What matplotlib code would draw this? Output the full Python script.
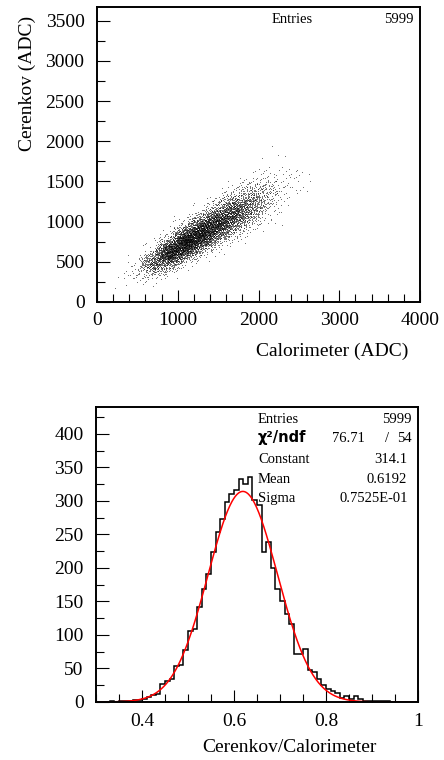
import matplotlib

matplotlib.use("Agg")

import matplotlib.pyplot as plt
import numpy as np
from matplotlib.ticker import FuncFormatter, MultipleLocator

plt.rcParams["font.family"] = ["Liberation Serif", "DejaVu Serif"]

# --- scatter: Cerenkov vs Calorimeter, stored as 2D bin counts (SCAT style) ---
CAL_EDGES = [200, 400, 600, 800, 1000, 1200, 1400, 1600, 1800, 2000, 2200, 2400, 2600]
CER_EDGES = [200, 300, 400, 500, 600, 700, 800, 900, 1000, 1100, 1200,
             1300, 1400, 1500, 1600, 1700, 1800, 1900, 2000]
# rows: calorimeter bins, columns: cerenkov bins
SCAT_COUNTS = [
    [2, 1, 0, 0, 0, 0, 0, 0, 0, 0, 0, 0, 0, 0, 0, 0, 0, 0],
    [8, 22, 9, 1, 0, 0, 0, 0, 0, 0, 0, 0, 0, 0, 0, 0, 0, 0],
    [3, 52, 178, 106, 11, 0, 0, 0, 0, 0, 0, 0, 0, 0, 0, 0, 0, 0],
    [0, 6, 90, 354, 354, 90, 6, 0, 0, 0, 0, 0, 0, 0, 0, 0, 0, 0],
    [0, 0, 6, 84, 355, 494, 226, 34, 1, 0, 0, 0, 0, 0, 0, 0, 0, 0],
    [0, 0, 0, 7, 70, 278, 440, 278, 70, 7, 0, 0, 0, 0, 0, 0, 0, 0],
    [0, 0, 0, 0, 7, 51, 191, 328, 260, 96, 16, 1, 0, 0, 0, 0, 0, 0],
    [0, 0, 0, 0, 0, 5, 37, 128, 230, 215, 105, 26, 4, 0, 0, 0, 0, 0],
    [0, 0, 0, 0, 0, 0, 4, 22, 68, 121, 121, 68, 22, 4, 0, 0, 0, 0],
    [0, 0, 0, 0, 0, 0, 0, 2, 8, 23, 42, 47, 31, 13, 3, 1, 0, 0],
    [0, 0, 0, 0, 0, 0, 0, 0, 0, 2, 5, 10, 12, 9, 4, 1, 1, 1],
    [0, 0, 0, 0, 0, 0, 0, 0, 0, 0, 0, 2, 3, 4, 2, 0, 0, 0],
]
SCAT_ENTRIES = "5999"

# --- ratio histogram Cerenkov/Calorimeter, 70 bins from 0.30 to 1.00 ---
RATIO_RANGE = (0.3, 1.0)
RATIO_COUNTS = [
    0, 0, 0, 1, 0, 1, 1, 2, 3, 3,
    4, 7, 11, 12, 27, 31, 34, 54, 55, 77,
    106, 109, 141, 168, 191, 223, 254, 273, 298, 310,
    316, 333, 325, 336, 301, 294, 223, 239, 200, 168,
    151, 131, 116, 71, 72, 79, 47, 45, 35, 26,
    20, 17, 13, 6, 9, 4, 9, 4, 2, 1,
    1, 2, 2, 1, 0, 0, 0, 0, 0, 0,
]
RATIO_ENTRIES = "5999"
FIT_CONSTANT = 314.1
FIT_MEAN = 0.6192
FIT_SIGMA = 0.07525
FIT_CHI2 = "76.71"
FIT_NDF = "54"

W, H = 444, 760


def _px(x, y):
    """Figure pixel (from top-left) to figure fraction."""
    return x / W, 1 - y / H


def _style(ax, xmaj, xmin, ymaj, ymin, xpad, ypad):
    ax.xaxis.set_major_locator(MultipleLocator(xmaj))
    ax.xaxis.set_minor_locator(MultipleLocator(xmin))
    ax.yaxis.set_major_locator(MultipleLocator(ymaj))
    ax.yaxis.set_minor_locator(MultipleLocator(ymin))
    ax.tick_params(which="both", direction="in", top=False, right=False,
                   width=0.8, labelsize=14, colors="black")
    ax.tick_params(which="major", length=9)
    ax.tick_params(which="minor", length=5.5)
    ax.tick_params(axis="x", pad=xpad)
    ax.tick_params(axis="y", pad=ypad)
    for sp in ax.spines.values():
        sp.set_linewidth(1.4)


def _cell_points():
    """Spread each bin's entries around its cell (triangular kernel, one cell wide)."""
    a = (0.8566748838545029, 0.7338918566271260, 0.6287067210378087, 0.5385972572236101)
    xs, ys = [], []
    k = 0
    for i, row in enumerate(SCAT_COUNTS):
        x0, x1 = CAL_EDGES[i], CAL_EDGES[i + 1]
        for j, n in enumerate(row):
            y0, y1 = CER_EDGES[j], CER_EDGES[j + 1]
            for _ in range(n):
                k += 1
                u = [(0.5 + k * ai) % 1.0 for ai in a]
                xs.append(0.5 * (x0 + x1) + (u[0] + u[1] - 1.0) * (x1 - x0))
                ys.append(0.5 * (y0 + y1) + (u[2] + u[3] - 1.0) * (y1 - y0))
    return np.array(xs), np.array(ys)


fig = plt.figure(figsize=(W / 100, H / 100), dpi=100)

# ---------------- top: scatter ----------------
ax1 = fig.add_axes([97 / W, 1 - 302 / H, 323 / W, 295 / H])
xs, ys = _cell_points()
ax1.plot(xs, ys, ",", color="black", alpha=0.55)
ax1.set_xlim(0, 4000)
ax1.set_ylim(0, 3670)
_style(ax1, 1000, 200, 500, 250, 7, 9)
ax1.set_xlabel("Calorimeter (ADC)", fontsize=14, ha="right", va="center")
ax1.xaxis.set_label_coords((408 - 97) / 323, -(351 - 302) / 295)
ax1.set_ylabel("Cerenkov (ADC)", fontsize=14, ha="right", va="center")
ax1.yaxis.set_label_coords((27 - 97) / 323, (302 - 16) / 295)
fig.text(*_px(272, 23), "Entries", fontsize=10.5, va="baseline")
fig.text(*_px(414, 23), SCAT_ENTRIES, fontsize=10.5, va="baseline", ha="right")

# ---------------- bottom: ratio histogram + gaussian fit ----------------
ax2 = fig.add_axes([96 / W, 1 - 702 / H, 322 / W, 295 / H])
edges = np.linspace(RATIO_RANGE[0], RATIO_RANGE[1], len(RATIO_COUNTS) + 1)
ax2.stairs(RATIO_COUNTS, edges, color="black", linewidth=1.1)
xf = np.linspace(RATIO_RANGE[0], RATIO_RANGE[1], 600)
yf = FIT_CONSTANT * np.exp(-0.5 * ((xf - FIT_MEAN) / FIT_SIGMA) ** 2)
ax2.plot(xf, yf, color="#ff0000", linewidth=1.1)
ax2.set_xlim(*RATIO_RANGE)
ax2.set_ylim(0, 440)
_style(ax2, 0.2, 0.05, 50, 25, 8, 9)
ax2.xaxis.set_major_formatter(FuncFormatter(lambda v, _: "{:g}".format(round(v, 2))))
ax2.set_xlabel("Cerenkov/Calorimeter", fontsize=14, ha="right", va="center")
ax2.xaxis.set_label_coords((377 - 96) / 322, -(748 - 702) / 295)

# stats box, positions in figure pixels from the top-left
rows = [
    ("Entries", RATIO_ENTRIES, 412, 423),
    ("Constant", "{:.1f}".format(FIT_CONSTANT), 407, 463),
    ("Mean", "{:.4f}".format(FIT_MEAN), 407, 483),
    ("Sigma", "0.7525E-01", 408, 502),
]
for label, value, xr, yb in rows:
    fig.text(*_px(258, yb), label, fontsize=10.5, va="baseline")
    fig.text(*_px(xr, yb), value, fontsize=10.5, va="baseline", ha="right")
fig.text(*_px(258, 442), "χ²/ndf", fontsize=10.5, va="baseline",
         family="DejaVu Sans", weight="bold")
fig.text(*_px(365, 442), FIT_CHI2, fontsize=10.5, va="baseline", ha="right")
fig.text(*_px(387, 442), "/", fontsize=10.5, va="baseline", ha="center")
fig.text(*_px(412, 442), FIT_NDF, fontsize=10.5, va="baseline", ha="right")

fig.savefig("out.png", dpi=100, facecolor="white")
